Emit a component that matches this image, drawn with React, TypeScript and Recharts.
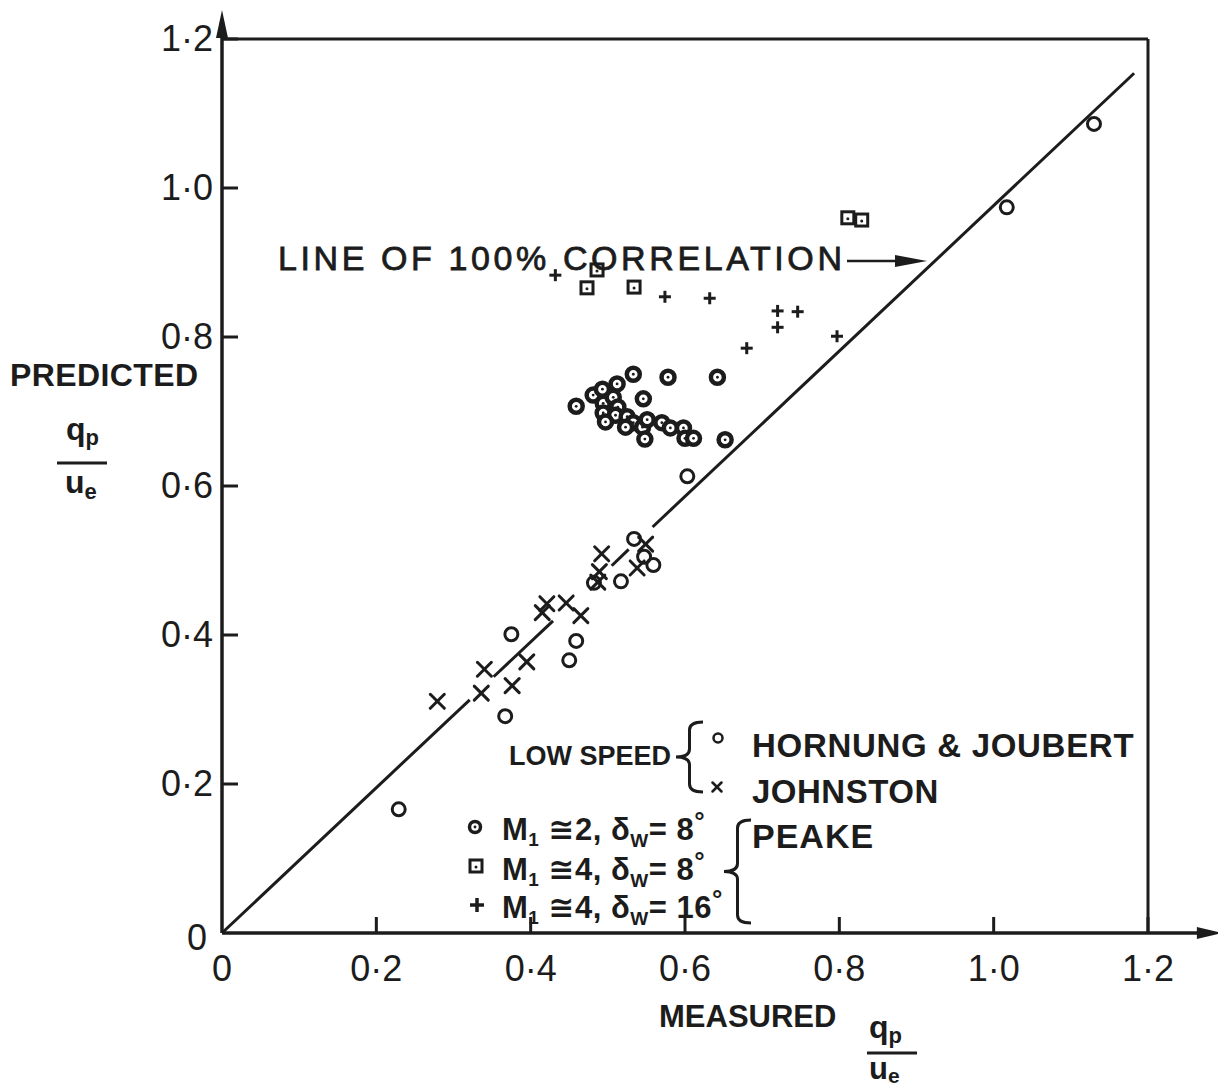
import React from 'react';
import { ScatterChart, Scatter, XAxis, YAxis, ReferenceLine, ReferenceDot } from 'recharts';

// ---------- data ----------
const axisTicks = [0, 0.2, 0.4, 0.6, 0.8, 1.0, 1.2];
const tickLabels = ['0', '0·2', '0·4', '0·6', '0·8', '1·0', '1·2'];

const hornungJoubert = [
  { x: 0.229, y: 0.166 }, { x: 0.367, y: 0.291 }, { x: 0.375, y: 0.401 },
  { x: 0.450, y: 0.366 }, { x: 0.459, y: 0.392 }, { x: 0.482, y: 0.470 },
  { x: 0.517, y: 0.472 }, { x: 0.534, y: 0.529 }, { x: 0.547, y: 0.505 },
  { x: 0.559, y: 0.494 }, { x: 0.603, y: 0.613 }, { x: 1.017, y: 0.974 },
  { x: 1.130, y: 1.086 },
];

const johnston = [
  { x: 0.279, y: 0.311 }, { x: 0.340, y: 0.354 }, { x: 0.336, y: 0.322 },
  { x: 0.376, y: 0.332 }, { x: 0.395, y: 0.364 }, { x: 0.415, y: 0.430 },
  { x: 0.421, y: 0.442 }, { x: 0.446, y: 0.443 }, { x: 0.465, y: 0.426 },
  { x: 0.492, y: 0.509 }, { x: 0.489, y: 0.485 }, { x: 0.487, y: 0.471 },
  { x: 0.549, y: 0.522 }, { x: 0.538, y: 0.490 },
];

const peakeM2d8 = [
  { x: 0.533, y: 0.750 }, { x: 0.578, y: 0.746 }, { x: 0.642, y: 0.746 },
  { x: 0.459, y: 0.707 }, { x: 0.481, y: 0.722 }, { x: 0.493, y: 0.730 },
  { x: 0.512, y: 0.737 }, { x: 0.494, y: 0.711 }, { x: 0.507, y: 0.719 },
  { x: 0.513, y: 0.706 }, { x: 0.546, y: 0.717 }, { x: 0.494, y: 0.698 },
  { x: 0.510, y: 0.695 }, { x: 0.497, y: 0.686 }, { x: 0.525, y: 0.693 },
  { x: 0.533, y: 0.685 }, { x: 0.523, y: 0.679 }, { x: 0.545, y: 0.679 },
  { x: 0.551, y: 0.689 }, { x: 0.548, y: 0.663 }, { x: 0.570, y: 0.685 },
  { x: 0.581, y: 0.678 }, { x: 0.598, y: 0.678 }, { x: 0.600, y: 0.664 },
  { x: 0.611, y: 0.664 }, { x: 0.652, y: 0.662 },
];

const peakeM4d8 = [
  { x: 0.473, y: 0.866 }, { x: 0.534, y: 0.867 }, { x: 0.486, y: 0.890 },
  { x: 0.811, y: 0.960 }, { x: 0.829, y: 0.957 },
];

const peakeM4d16 = [
  { x: 0.432, y: 0.883 }, { x: 0.574, y: 0.854 }, { x: 0.632, y: 0.852 },
  { x: 0.720, y: 0.835 }, { x: 0.746, y: 0.834 }, { x: 0.720, y: 0.813 },
  { x: 0.680, y: 0.785 }, { x: 0.797, y: 0.801 },
];

// line of 100% correlation, drawn in pieces (gaps where points sit on it)
const correlationSegments = [
  [{ x: 0, y: 0 }, { x: 0.321, y: 0.313 }],
  [{ x: 0.352, y: 0.344 }, { x: 0.429, y: 0.419 }],
  [{ x: 0.505, y: 0.493 }, { x: 0.527, y: 0.515 }],
  [{ x: 0.558, y: 0.545 }, { x: 1.182, y: 1.154 }],
];

const axisEnds = { x: 1.297, y: 1.239 };

// ---------- style ----------
const INK = '#1c1c1c';
const FONT = "'Liberation Sans', Arial, 'DejaVu Sans', sans-serif";
const W = 1218;
const H = 1083;

// ---------- marker shapes ----------
const OpenCircle = (p: any) => (
  <circle cx={p.cx} cy={p.cy} r={p.r ?? 6.5} fill="none" stroke={INK} strokeWidth={p.sw ?? 3} />
);
const Cross = (p: any) => {
  const a = p.a ?? 7;
  return (
    <g stroke={INK} strokeWidth={p.sw ?? 3} strokeLinecap="round">
      <line x1={p.cx - a} y1={p.cy - a} x2={p.cx + a} y2={p.cy + a} />
      <line x1={p.cx - a} y1={p.cy + a} x2={p.cx + a} y2={p.cy - a} />
    </g>
  );
};
const DotCircle = (p: any) => (
  <g>
    <circle cx={p.cx} cy={p.cy} r={p.r ?? 6.5} fill="#fff" stroke={INK} strokeWidth={p.sw ?? 4.5} />
    <circle cx={p.cx} cy={p.cy} r={1.4} fill={INK} />
  </g>
);
const DotSquare = (p: any) => {
  const s = p.s ?? 6;
  return (
    <g>
      <rect x={p.cx - s} y={p.cy - s} width={2 * s} height={2 * s} fill="#fff" stroke={INK} strokeWidth={3} />
      <circle cx={p.cx} cy={p.cy + 1} r={1.5} fill={INK} />
    </g>
  );
};
const Plus = (p: any) => {
  const a = p.a ?? 6;
  return (
    <g stroke={INK} strokeWidth={p.sw ?? 3}>
      <line x1={p.cx - a} y1={p.cy} x2={p.cx + a} y2={p.cy} />
      <line x1={p.cx} y1={p.cy - a} x2={p.cx} y2={p.cy + a} />
    </g>
  );
};

const ArrowRight = (p: any) => (
  <polygon points={`${p.cx},${p.cy} ${p.cx - 26},${p.cy - 6} ${p.cx - 26},${p.cy + 6}`} fill={INK} />
);
const ArrowUp = (p: any) => (
  <polygon points={`${p.cx},${p.cy} ${p.cx - 6},${p.cy + 28} ${p.cx + 6},${p.cy + 28}`} fill={INK} />
);

// ---------- ticks ----------
const labelOf = (v: number) => tickLabels[axisTicks.indexOf(v)] ?? String(v);

const XTick = (props: any) => {
  const { x, y, payload } = props;
  return (
    <g>
      {payload.value > 0 && <line x1={x} y1={y} x2={x} y2={y - 16} stroke={INK} strokeWidth={3} />}
      <text x={x} y={y + 48} textAnchor="middle" fontSize={36} fontFamily={FONT} fill={INK}>
        {labelOf(payload.value)}
      </text>
    </g>
  );
};

const YTick = (props: any) => {
  const { x, y, payload } = props;
  const zero = payload.value === 0;
  return (
    <g>
      {payload.value > 0 && <line x1={x} y1={y} x2={x + 16} y2={y} stroke={INK} strokeWidth={3} />}
      <text x={zero ? x - 15 : x - 9} y={y + (zero ? 17 : 12)} textAnchor="end" fontSize={36} fontFamily={FONT} fill={INK}>
        {labelOf(payload.value)}
      </text>
    </g>
  );
};

// ---------- overlay text ----------
const brace = (xl: number, xr: number, y1: number, y2: number) => {
  const xm = (xl + xr) / 2;
  const ym = (y1 + y2) / 2;
  const r = 8;
  return `M ${xr} ${y1} Q ${xm} ${y1} ${xm} ${y1 + r} L ${xm} ${ym - r} Q ${xm} ${ym} ${xl} ${ym} Q ${xm} ${ym} ${xm} ${ym + r} L ${xm} ${y2 - r} Q ${xm} ${y2} ${xr} ${y2}`;
};

const MLine = ({ x, y, m, d }: { x: number; y: number; m: string; d: string }) => (
  <text x={x} y={y} fontSize={31} fontFamily={FONT} fill={INK} fontWeight={700} letterSpacing={0.5}>
    M<tspan fontSize={19} dy={6}>1</tspan>
    <tspan dy={-6}> ≅</tspan>{m}, δ<tspan fontSize={19} dy={7}>W</tspan>
    <tspan dy={-7}>= {d}</tspan>
    <tspan fontSize={26} dy={-10}>°</tspan>
  </text>
);

const Overlay = () => (
  <svg width={W} height={H} style={{ position: 'absolute', left: 0, top: 0, overflow: 'visible', pointerEvents: 'none' }}>
    <g fontFamily={FONT} fill={INK} fontWeight={700}>
      {/* y-axis title */}
      <text x={2} y={378} fontSize={32} letterSpacing={0.4}>PREDICTED</text>
      <text x={58} y={432} fontSize={32}>q<tspan fontSize={22} dy={5}>p</tspan></text>
      <line x1={49} y1={455} x2={99} y2={455} stroke={INK} strokeWidth={3} />
      <text x={57} y={485} fontSize={32}>u<tspan fontSize={22} dy={6}>e</tspan></text>

      {/* x-axis title */}
      <text x={651} y={1019} fontSize={31}>MEASURED</text>
      <text x={861} y={1030} fontSize={32}>q<tspan fontSize={22} dy={5}>p</tspan></text>
      <line x1={859} y1={1045} x2={909} y2={1045} stroke={INK} strokeWidth={3} />
      <text x={861} y={1071} fontSize={31}>u<tspan fontSize={21} dy={4}>e</tspan></text>

      {/* annotation */}
      <text x={270} y={262} fontSize={34} letterSpacing={3.6} fontWeight={400} stroke={INK} strokeWidth={0.8}>LINE OF 100% CORRELATION</text>
      <line x1={839} y1={253} x2={892} y2={253} stroke={INK} strokeWidth={2.5} />
      <polygon points="919,253 887,247 887,259" fill={INK} />

      {/* legend */}
      <text x={501} y={757} fontSize={27}>LOW SPEED</text>
      <path d={brace(668, 695, 714, 784)} fill="none" stroke={INK} strokeWidth={3} />
      <text x={744} y={749} fontSize={33} letterSpacing={0.7}>HORNUNG &amp; JOUBERT</text>
      <text x={744} y={795} fontSize={33} letterSpacing={0.5}>JOHNSTON</text>

      <MLine x={494} y={832} m="2" d="8" />
      <MLine x={494} y={872} m="4" d="8" />
      <MLine x={494} y={910} m="4" d="16" />
      <path d={brace(716, 743, 812, 915)} fill="none" stroke={INK} strokeWidth={3} />
      <text x={744} y={840} fontSize={34} letterSpacing={1}>PEAKE</text>
    </g>
    <OpenCircle cx={710} cy={730} r={4.5} sw={2.5} />
    <Cross cx={709} cy={779} a={4.5} sw={2.5} />
    <DotCircle cx={467} cy={819} r={5.5} sw={3.5} />
    <DotSquare cx={468} cy={858} s={6} />
    <Plus cx={469} cy={897} a={7} sw={3.5} />
  </svg>
);

export default function App() {
  return (
    <div style={{ position: 'relative', width: W, height: H, background: '#fff' }}>
      <style>{`html,body{overflow:hidden;background:#fff;}`}</style>
      <ScatterChart width={W} height={H} margin={{ top: 31, right: 78, bottom: 98, left: 114 }}>
        <XAxis
          type="number" dataKey="x" domain={[0, 1.2]} ticks={axisTicks} interval={0}
          axisLine={false} tickLine={false} tickSize={0} tickMargin={0} height={60} tick={<XTick />}
        />
        <YAxis
          type="number" dataKey="y" domain={[0, 1.2]} ticks={axisTicks} interval={0}
          axisLine={false} tickLine={false} tickSize={0} tickMargin={0} width={100} tick={<YTick />}
        />
        {/* frame */}
        <ReferenceLine y={1.2} stroke={INK} strokeWidth={3} />
        <ReferenceLine x={1.2} stroke={INK} strokeWidth={3} />
        {/* axes with arrows */}
        <ReferenceLine segment={[{ x: 0, y: 0 }, { x: axisEnds.x - 0.02, y: 0 }]} stroke={INK} strokeWidth={3.5} ifOverflow="visible" />
        <ReferenceLine segment={[{ x: 0, y: 0 }, { x: 0, y: axisEnds.y - 0.02 }]} stroke={INK} strokeWidth={3.5} ifOverflow="visible" />
        <ReferenceDot x={axisEnds.x} y={0} ifOverflow="visible" shape={ArrowRight} />
        <ReferenceDot x={0} y={axisEnds.y} ifOverflow="visible" shape={ArrowUp} />
        {/* 100% correlation line */}
        {correlationSegments.map((seg, i) => (
          <ReferenceLine key={i} segment={seg} stroke={INK} strokeWidth={3} ifOverflow="visible" />
        ))}
        <Scatter data={hornungJoubert} shape={OpenCircle} isAnimationActive={false} />
        <Scatter data={johnston} shape={Cross} isAnimationActive={false} />
        <Scatter data={peakeM2d8} shape={DotCircle} isAnimationActive={false} />
        <Scatter data={peakeM4d8} shape={DotSquare} isAnimationActive={false} />
        <Scatter data={peakeM4d16} shape={Plus} isAnimationActive={false} />
      </ScatterChart>
      <Overlay />
    </div>
  );
}
